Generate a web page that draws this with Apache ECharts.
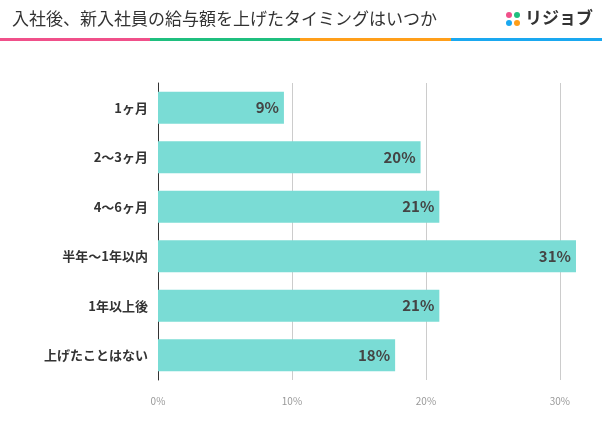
<!DOCTYPE html>
<html>
<head>
<meta charset="utf-8">
<script src="https://cdn.jsdelivr.net/npm/echarts@6/dist/echarts.min.js"></script>
<style>html,body{margin:0;background:#fff}#chart{width:602px;height:424px}</style>
</head>
<body>
<div id="chart"></div>
<script>
const categories = ["1ヶ月", "2〜3ヶ月", "4〜6ヶ月", "半年〜1年以内", "1年以上後", "上げたことはない"]
const values = [9.4, 19.6, 21, 31.2, 21, 17.7]
const ticks = [0, 10, 20, 30]

const chart = echarts.init(document.getElementById("chart"))
const font = "'Noto Sans CJK JP', sans-serif"
chart.setOption({
  animation: false,
  textStyle: { fontFamily: font },
  graphic: [
    { type: "text", left: 12, top: 10, style: { text: "入社後、新入社員の給与額を上げたタイミングはいつか", fontSize: 17, fill: "#333", fontFamily: font } },
    { type: "text", left: 525, top: 9, style: { text: "リジョブ", fontSize: 17, fontWeight: "bold", fill: "#333", fontFamily: font } },
    { type: "circle", shape: { cx: 509, cy: 15, r: 3 }, style: { fill: "#f0508a" } },
    { type: "circle", shape: { cx: 517, cy: 15, r: 3 }, style: { fill: "#1fbf7f" } },
    { type: "circle", shape: { cx: 509, cy: 23, r: 3 }, style: { fill: "#1aa8f0" } },
    { type: "circle", shape: { cx: 517, cy: 23, r: 3 }, style: { fill: "#ff9f1a" } },
    { type: "rect", shape: { x: 0, y: 38, width: 150, height: 3 }, style: { fill: "#f0508a" } },
    { type: "rect", shape: { x: 150, y: 38, width: 150, height: 3 }, style: { fill: "#1fbf7f" } },
    { type: "rect", shape: { x: 300, y: 38, width: 151, height: 3 }, style: { fill: "#ff9f1a" } },
    { type: "rect", shape: { x: 451, y: 38, width: 151, height: 3 }, style: { fill: "#1aa8f0" } }
  ],
  grid: { left: 158, right: 22, top: 83, bottom: 44 },
  xAxis: {
    type: "value", min: 0, max: 31.5, interval: 10,
    axisLabel: { showMaxLabel: false, color: "#999", fontSize: 10, margin: 16, formatter: v => ticks.includes(v) ? v + "%" : "" },
    splitLine: { showMaxLine: false, lineStyle: { color: "#ccc" } },
    axisLine: { show: false }, axisTick: { show: false }
  },
  yAxis: {
    type: "category", data: categories, inverse: true,
    axisLine: { show: true, lineStyle: { color: "#333" } }, axisTick: { show: false },
    axisLabel: { color: "#333", fontSize: 13, fontWeight: "bold", margin: 10 }
  },
  series: [{
    type: "bar", data: values, barWidth: 32,
    itemStyle: { color: "#7adcd5" },
    label: { show: true, position: "insideRight", formatter: p => Math.round(p.value) + "%", color: "#444", fontSize: 15, fontWeight: "bold" }
  }]
})
</script>
</body>
</html>
